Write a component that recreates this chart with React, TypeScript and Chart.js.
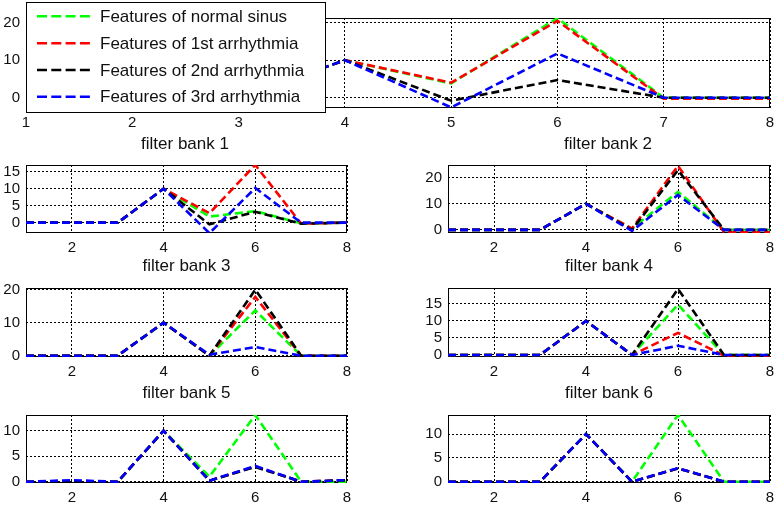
import React, { useEffect, useRef } from "react";
import { Chart, registerables } from "chart.js";

Chart.register(...registerables);

// ---------------- data ----------------
const xValues = [1, 2, 3, 4, 5, 6, 7, 8];
const seriesNames = [
  "Features of normal sinus",
  "Features of 1st arrhythmia",
  "Features of 2nd arrhythmia",
  "Features of 3rd arrhythmia",
];
const seriesColors = ["#00ff00", "#ff0000", "#000000", "#0000ff"];

const topXTicks = [1, 2, 3, 4, 5, 6, 7, 8];
const panelXTicks = [2, 4, 6, 8];

// top wide axis (filter bank 1 / filter bank 2)
const topNormal = [0, 0, 0, 10, 3.8, 21.2, 0, 0];
const top1st = [0, 0, 0, 10, 4.0, 20.5, -0.3, -0.3];
const top2nd = [0, 0, 0, 10, -0.8, 4.7, 0, 0];
const top3rd = [0, 0, 0, 10, -2.6, 11.8, 0, 0];
const topYTicks = [0, 10, 20];

// filter bank 3 panel
const fb3Normal = [0, 0, 0, 10, 1.8, 3.4, -0.2, 0];
const fb31st = [0, 0, 0, 10, 2.8, 17, -0.3, 0];
const fb32nd = [0, 0, 0, 10, -0.5, 3.2, -0.3, 0];
const fb33rd = [0, 0, 0, 10, -3.1, 10.2, 0, 0];
const fb3YTicks = [0, 5, 10, 15];

// filter bank 4 panel
const fb4Normal = [0, 0, 0, 10, 0.5, 14.6, 0, 0];
const fb41st = [0, 0, 0, 10, 0.5, 24.6, -0.9, -0.9];
const fb42nd = [0, 0, 0, 10, 0, 22.9, 0, 0];
const fb43rd = [0, 0, 0, 10, -0.4, 13.4, 0, 0];
const fb4YTicks = [0, 10, 20];

// filter bank 5 panel
const fb5Normal = [0, 0, 0, 10, 0, 13.7, 0, 0];
const fb51st = [0, 0, 0, 10, 0, 17.8, 0, 0];
const fb52nd = [0, 0, 0, 10, 0, 20, 0, 0];
const fb53rd = [0, 0, 0, 10, 0.3, 2.6, 0, 0];
const fb5YTicks = [0, 10, 20];

// filter bank 6 panel
const fb6Normal = [0, 0, 0, 10, 0, 14.8, 0, 0];
const fb61st = [0, 0, 0, 10, 0, 6.5, -0.2, -0.2];
const fb62nd = [0, 0, 0, 10, 0, 19.4, 0, 0];
const fb63rd = [0, 0, 0, 10, 0, 2.7, 0, 0];
const fb6YTicks = [0, 5, 10, 15];

// bottom-left panel
const fb7Normal = [0, 0, 0, 10, 1.0, 13.1, 0, 0];
const fb71st = [0, 0, 0, 10, 0.2, 3.0, 0, 0.3];
const fb72nd = [0, 0, 0, 10, 0.2, 2.9, 0, 0.3];
const fb73rd = [0, 0.3, 0, 10, 0.2, 3.1, 0, 0.3];
const fb7YTicks = [0, 5, 10];

// bottom-right panel
const fb8Normal = [0, 0, 0, 10, 0, 14, 0, 0];
const fb81st = [0, 0, 0, 10, 0, 2.8, 0, 0];
const fb82nd = [0, 0, 0, 10, 0, 2.8, 0, 0];
const fb83rd = [0, 0, 0, 10, 0, 2.85, 0, 0];
const fb8YTicks = [0, 5, 10];

const bankLabels = [
  "filter bank 1",
  "filter bank 2",
  "filter bank 3",
  "filter bank 4",
  "filter bank 5",
  "filter bank 6",
];

// ---------------- styling ----------------
const FONT = "'Liberation Sans', Arial, sans-serif";
const TEXT = "#111111";
const tickFont = { family: FONT, size: 15 };
const titleFont = { family: FONT, size: 17 };

type Rect = { l: number; t: number; r: number; b: number };
type PanelSpec = {
  key: string;
  canvas: Rect;
  frame: Rect;
  yMin: number;
  yMax: number;
  xTicks: number[];
  yTicks: number[];
  series: number[][];
  xTitle?: string;
  extraLabels?: { text: string; x: number; y: number }[];
  legend?: boolean;
};

const LEFT_COL = { cl: 0, cr: 360, fl: 26, fr: 347 };
const RIGHT_COL = { cl: 405, cr: 777, fl: 448, fr: 770 };

const panels: PanelSpec[] = [
  {
    key: "top",
    canvas: { l: 0, t: 0, r: 777, b: 160 },
    frame: { l: 26, t: 18, r: 770, b: 108 },
    yMin: -2.75,
    yMax: 21.25,
    xTicks: topXTicks,
    yTicks: topYTicks,
    series: [topNormal, top1st, top2nd, top3rd],
    extraLabels: [
      { text: bankLabels[0], x: 185, y: 144 },
      { text: bankLabels[1], x: 608, y: 144 },
    ],
    legend: true,
  },
  {
    key: "fb3",
    canvas: { l: LEFT_COL.cl, t: 155, r: LEFT_COL.cr, b: 277 },
    frame: { l: LEFT_COL.fl, t: 165, r: LEFT_COL.fr, b: 233 },
    yMin: -3.05,
    yMax: 17,
    xTicks: panelXTicks,
    yTicks: fb3YTicks,
    series: [fb3Normal, fb31st, fb32nd, fb33rd],
    xTitle: bankLabels[2],
  },
  {
    key: "fb4",
    canvas: { l: RIGHT_COL.cl, t: 155, r: RIGHT_COL.cr, b: 277 },
    frame: { l: RIGHT_COL.fl, t: 165, r: RIGHT_COL.fr, b: 233 },
    yMin: -1.2,
    yMax: 24.9,
    xTicks: panelXTicks,
    yTicks: fb4YTicks,
    series: [fb4Normal, fb41st, fb42nd, fb43rd],
    xTitle: bankLabels[3],
  },
  {
    key: "fb5",
    canvas: { l: LEFT_COL.cl, t: 278, r: LEFT_COL.cr, b: 404 },
    frame: { l: LEFT_COL.fl, t: 288, r: LEFT_COL.fr, b: 357 },
    yMin: -0.4,
    yMax: 20.5,
    xTicks: panelXTicks,
    yTicks: fb5YTicks,
    series: [fb5Normal, fb51st, fb52nd, fb53rd],
    xTitle: bankLabels[4],
  },
  {
    key: "fb6",
    canvas: { l: RIGHT_COL.cl, t: 278, r: RIGHT_COL.cr, b: 404 },
    frame: { l: RIGHT_COL.fl, t: 288, r: RIGHT_COL.fr, b: 357 },
    yMin: -0.6,
    yMax: 19.7,
    xTicks: panelXTicks,
    yTicks: fb6YTicks,
    series: [fb6Normal, fb61st, fb62nd, fb63rd],
    xTitle: bankLabels[5],
  },
  {
    key: "fb7",
    canvas: { l: LEFT_COL.cl, t: 405, r: LEFT_COL.cr, b: 505 },
    frame: { l: LEFT_COL.fl, t: 415, r: LEFT_COL.fr, b: 483 },
    yMin: -0.25,
    yMax: 13.1,
    xTicks: panelXTicks,
    yTicks: fb7YTicks,
    series: [fb7Normal, fb71st, fb72nd, fb73rd],
  },
  {
    key: "fb8",
    canvas: { l: RIGHT_COL.cl, t: 405, r: RIGHT_COL.cr, b: 505 },
    frame: { l: RIGHT_COL.fl, t: 415, r: RIGHT_COL.fr, b: 483 },
    yMin: -0.27,
    yMax: 14.0,
    xTicks: panelXTicks,
    yTicks: fb8YTicks,
    series: [fb8Normal, fb81st, fb82nd, fb83rd],
  },
];

// ---------------- plugins ----------------
const framePlugin = {
  id: "matlabFrame",
  beforeDatasetsDraw(chart: any) {
    const { ctx, chartArea: a } = chart;
    const x0 = Math.round(a.left) + 0.5;
    const y0 = Math.round(a.top) + 0.5;
    const x1 = Math.round(a.right) - 0.5;
    const y1 = Math.round(a.bottom) - 0.5;
    ctx.save();
    ctx.strokeStyle = "#000";
    ctx.lineWidth = 1;
    ctx.setLineDash([]);
    ctx.strokeRect(x0, y0, x1 - x0, y1 - y0);
    ctx.restore();
  },
};

function makeExtraPlugin(spec: PanelSpec) {
  return {
    id: "extraLabels_" + spec.key,
    afterDraw(chart: any) {
      const ctx = chart.ctx;
      ctx.save();
      if (spec.extraLabels) {
        ctx.font = `${titleFont.size}px ${FONT}`;
        ctx.fillStyle = TEXT;
        ctx.textAlign = "center";
        ctx.textBaseline = "middle";
        for (const lab of spec.extraLabels) {
          ctx.fillText(lab.text, lab.x - spec.canvas.l, lab.y - spec.canvas.t);
        }
      }
      if (spec.legend) {
        const bx = 26 - spec.canvas.l;
        const by = 2 - spec.canvas.t;
        const bw = 300;
        const bh = 111;
        ctx.fillStyle = "#ffffff";
        ctx.fillRect(bx, by, bw, bh);
        ctx.strokeStyle = "#000";
        ctx.lineWidth = 1;
        ctx.setLineDash([]);
        ctx.strokeRect(bx + 0.5, by + 0.5, bw - 1, bh - 1);
        const rows = [16.3, 43.2, 70, 96.8];
        chart.data.datasets.forEach((ds: any, i: number) => {
          const y = rows[i] - spec.canvas.t;
          ctx.beginPath();
          ctx.strokeStyle = ds.borderColor;
          ctx.lineWidth = 2.6;
          ctx.setLineDash([10, 4.3]);
          ctx.moveTo(bx + 11, y);
          ctx.lineTo(bx + 65, y);
          ctx.stroke();
          ctx.setLineDash([]);
          ctx.fillStyle = TEXT;
          ctx.font = `17px ${FONT}`;
          ctx.textAlign = "left";
          ctx.textBaseline = "middle";
          ctx.fillText(ds.label, bx + 74, y + 1);
        });
      }
      ctx.restore();
    },
  };
}

function buildConfig(spec: PanelSpec): any {
  const yAxisW = spec.frame.l - spec.canvas.l;
  const padTop = spec.frame.t - spec.canvas.t;
  const padRight = spec.canvas.r - spec.frame.r;
  const xAxisH = spec.canvas.b - spec.frame.b;
  const zeroPad = (s: any) => {
    s.paddingLeft = 0;
    s.paddingRight = 0;
    s.paddingTop = 0;
    s.paddingBottom = 0;
  };
  return {
    type: "line",
    data: {
      datasets: seriesNames.map((name, i) => ({
        label: name,
        data: xValues.map((x, j) => ({ x, y: spec.series[i][j] })),
        borderColor: seriesColors[i],
        backgroundColor: seriesColors[i],
        borderWidth: 2.6,
        borderDash: [8, 4],
        pointRadius: 0,
        pointHoverRadius: 0,
        tension: 0,
        fill: false,
        order: 3 - i,
      })),
    },
    options: {
      responsive: false,
      animation: false,
      events: [],
      layout: { padding: { top: padTop, right: padRight, left: 0, bottom: 0 } },
      plugins: {
        legend: { display: false },
        tooltip: { enabled: false },
        title: { display: false },
      },
      scales: {
        x: {
          type: "linear",
          position: "bottom",
          min: 1,
          max: 8,
          afterBuildTicks: (s: any) => {
            s.ticks = spec.xTicks.map((v) => ({ value: v }));
          },
          afterFit: (s: any) => {
            s.height = xAxisH;
            zeroPad(s);
          },
          ticks: {
            font: tickFont,
            color: TEXT,
            padding: 6,
            maxRotation: 0,
            autoSkip: false,
            callback: (v: any) => String(v),
          },
          grid: { color: "#000", lineWidth: 1, drawTicks: false },
          border: { display: false, dash: [2, 2] },
          title: spec.xTitle
            ? { display: true, text: spec.xTitle, font: titleFont, color: TEXT, padding: 0 }
            : { display: false },
        },
        y: {
          type: "linear",
          position: "left",
          min: spec.yMin,
          max: spec.yMax,
          afterBuildTicks: (s: any) => {
            s.ticks = spec.yTicks.map((v) => ({ value: v }));
          },
          afterFit: (s: any) => {
            s.width = yAxisW;
            zeroPad(s);
          },
          ticks: {
            font: tickFont,
            color: TEXT,
            padding: 6,
            autoSkip: false,
            callback: (v: any) => String(v),
          },
          grid: { color: "#000", lineWidth: 1, drawTicks: false },
          border: { display: false, dash: [2, 2] },
        },
      },
    },
    plugins: [framePlugin, makeExtraPlugin(spec)],
  };
}

function Panel({ spec }: { spec: PanelSpec }) {
  const ref = useRef<HTMLCanvasElement | null>(null);
  const w = spec.canvas.r - spec.canvas.l;
  const h = spec.canvas.b - spec.canvas.t;
  useEffect(() => {
    const el = ref.current;
    if (!el) return;
    const chart = new Chart(el, buildConfig(spec));
    return () => chart.destroy();
  }, [spec]);
  return (
    <canvas
      ref={ref}
      width={w}
      height={h}
      style={{
        position: "absolute",
        left: spec.canvas.l,
        top: spec.canvas.t,
        width: w,
        height: h,
      }}
    />
  );
}

export default function App() {
  return (
    <div
      style={{
        position: "absolute",
        left: 0,
        top: 0,
        width: 777,
        height: 505,
        background: "#ffffff",
        overflow: "hidden",
      }}
    >
      {panels.map((p) => (
        <Panel key={p.key} spec={p} />
      ))}
    </div>
  );
}
